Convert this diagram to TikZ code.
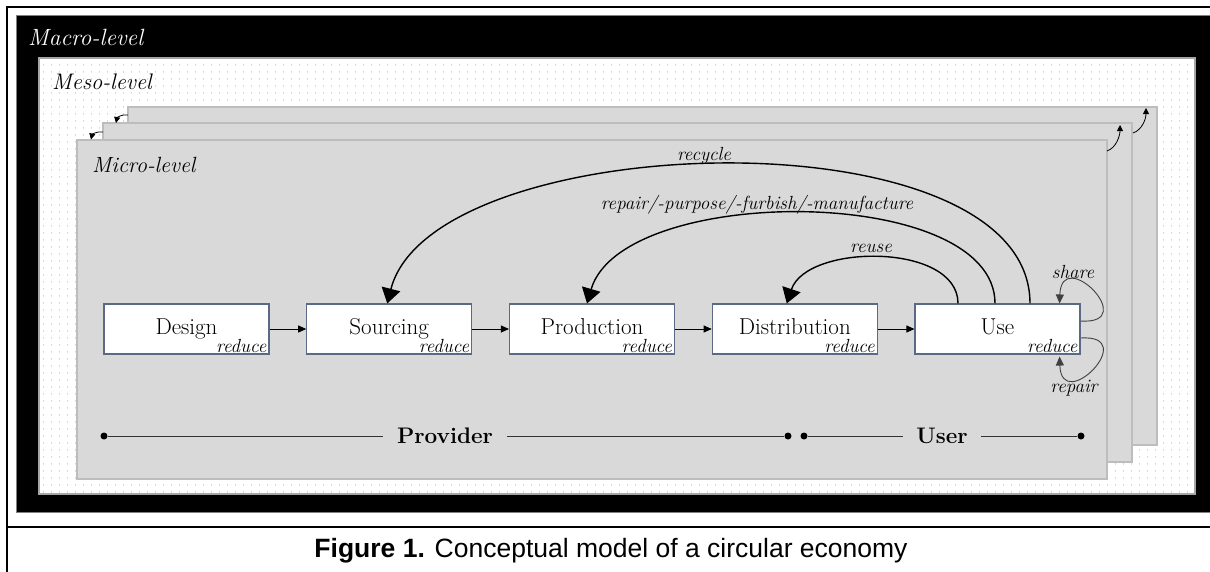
\documentclass[tikz,border=0pt]{standalone}
\usepackage{fontspec}
\newfontfamily\capfont{Liberation Sans}
\usetikzlibrary{arrows.meta,patterns.meta}
\definecolor{pagegray}{HTML}{D9D9D9}
\definecolor{pageedge}{HTML}{BDBDBD}
\definecolor{boxedge}{RGB}{90,106,132}
\definecolor{mesoedge}{HTML}{A6A6A6}
\definecolor{dotgray}{HTML}{ADADAD}
\tikzdeclarepattern{
  name=mesodots,
  type=uncolored,
  bounding box={(0pt,0pt) and (8pt,7pt)},
  tile size={(8pt,7pt)},
  code={\fill (4pt,3.5pt) circle (0.7pt);}
}
\begin{document}
\begin{tikzpicture}[x=1pt,y=-1pt,
  page/.style={fill=pagegray, draw=pageedge, line width=1.5pt},
  stagebox/.style={draw=boxedge, fill=white, line width=1.1pt, minimum width=165pt, minimum height=50pt, inner sep=0pt, text height=15pt, text depth=4pt, font=\fontsize{23}{27}\selectfont},
  redlabel/.style={font=\fontsize{19}{22}\selectfont\itshape, anchor=south east, inner sep=0pt},
  flow/.style={-{Triangle[width=7pt,length=8pt]}, line width=0.9pt},
  loopback/.style={-{Triangle[width=19pt,length=15pt]}, line width=1.4pt},
  selfloop/.style={-{Triangle[width=8pt,length=9pt]}, line width=0.9pt, draw=black!75},
  stackarrow/.style={-{Triangle[width=6pt,length=6pt]}, line width=0.8pt},
  curvelabel/.style={font=\fontsize{19}{22}\selectfont\itshape, inner sep=0pt},
  levellabel/.style={font=\fontsize{22}{26}\selectfont\itshape, anchor=base west, inner sep=0pt},
  rolelabel/.style={font=\fontsize{22.5}{27}\selectfont\bfseries, inner ysep=0pt, inner xsep=14pt},
  roleline/.style={line width=0.9pt, draw=black!80},
  roledot/.style={circle, fill=black, inner sep=0pt, minimum size=7pt},
  frameline/.style={line width=2pt, draw=black}
]
\useasboundingbox (0,0) rectangle (1210,571);
\fill[white] (0,0) rectangle (1210,571);
% macro level
\fill[black] (16,15) rectangle (1214,512);
\draw[gray, line width=1pt] (1214,15) -- (16,15) -- (16,512) -- (1214,512);
\draw[frameline] (1212,7) -- (7,7) -- (7,575);
\draw[frameline] (6,527) -- (1212,527);
\node[levellabel, white, font=\fontsize{23.5}{27}\selectfont\itshape] (macro) at (28,45) {Macro-level};
% meso level
\fill[white] (39,58) rectangle (1195,494);
\fill[pattern=mesodots, pattern color=dotgray] (39,58) rectangle (1195,494);
\draw[mesoedge, line width=1.2pt] (39,58) rectangle (1195,494);
\node[levellabel, font=\fontsize{22.5}{27}\selectfont\itshape] (meso) at (52,89) {Meso-level};
% stacked micro pages
\draw[page] (128,107) rectangle (1157,445);
\draw[page] (103,123) rectangle (1132,462);
\draw[page] (77,140) rectangle (1107,479);
\node[levellabel] (micro) at (92,172) {Micro-level};
% stack arrows
\coordinate (tlas) at (128,115); \coordinate (tlae) at (116,123);
\coordinate (tlbs) at (103,132); \coordinate (tlbe) at (91,139.5);
\coordinate (tras) at (1107,151); \coordinate (trae) at (1120,125);
\coordinate (trbs) at (1133,133); \coordinate (trbe) at (1146,108);
\draw[stackarrow] (tlas) .. controls (121,114) and (117,118) .. (tlae);
\draw[stackarrow] (tlbs) .. controls (96,131) and (92,135) .. (tlbe);
\draw[stackarrow] (tras) .. controls (1116,148) and (1120,136) .. (trae);
\draw[stackarrow] (trbs) .. controls (1142,130) and (1146,119) .. (trbe);
% stages
\node[stagebox] (design) at (186.5,329) {Design};
\node[stagebox] (sourcing) at (389.25,329) {Sourcing};
\node[stagebox] (production) at (592,329) {Production};
\node[stagebox] (distribution) at (794.75,329) {Distribution};
\node[stagebox] (use) at (997.5,329) {Use};
\foreach \s in {design,sourcing,production,distribution,use}
  \node[redlabel] (\s-red) at ([xshift=-3pt,yshift=1.5pt]\s.south east) {reduce};
\draw[flow] (design) -- (sourcing);
\draw[flow] (sourcing) -- (production);
\draw[flow] (production) -- (distribution);
\draw[flow] (distribution) -- (use);
% loop backs
\draw[loopback] ([xshift=32.5pt]use.north) .. controls +(0,-194) and +(45,-176) .. ([xshift=-2pt]sourcing.north);
\draw[loopback] ([xshift=-2.5pt]use.north) .. controls +(0,-120) and +(35,-120) .. ([xshift=-5pt]production.north);
\draw[loopback] ([xshift=-39.5pt]use.north) .. controls +(0,-61) and +(20,-60) .. ([xshift=-8pt]distribution.north);
\node[curvelabel] (recycle) at (704,156) {recycle};
\node[curvelabel] (remake) at (757,205) {repair/-purpose/-furbish/-manufacture};
\node[curvelabel] (reuse) at (871,248) {reuse};
% self loops
\draw[selfloop] ([yshift=8pt]use.east) .. controls +(61,4) and +(2,-59) .. ([xshift=-21pt]use.north east);
\draw[selfloop] ([yshift=-9pt]use.east) .. controls +(61,-4) and +(2,59) .. ([xshift=-21pt,yshift=-2pt]use.south east);
\node[curvelabel] (share) at (1073,272) {share};
\node[curvelabel] (repair) at (1074,388) {repair};
% roles
\node[roledot] (p0) at (104,436) {};
\node[rolelabel] (provider) at (445,436) {Provider};
\node[roledot] (p1) at (788,436) {};
\node[roledot] (u0) at (804,436) {};
\node[rolelabel, inner xsep=13pt] (user) at (942,436) {User};
\node[roledot] (u1) at (1081,436) {};
\draw[roleline] (p0) -- (provider);
\draw[roleline] (provider) -- (p1);
\draw[roleline] (u0) -- (user);
\draw[roleline] (user) -- (u1);
% caption
\node[anchor=base, inner sep=0pt, font=\capfont\fontsize{26.5}{30}\selectfont] (caption) at (611,557) {\textbf{Figure 1.} Conceptual model of a circular economy};
\end{tikzpicture}
\end{document}
